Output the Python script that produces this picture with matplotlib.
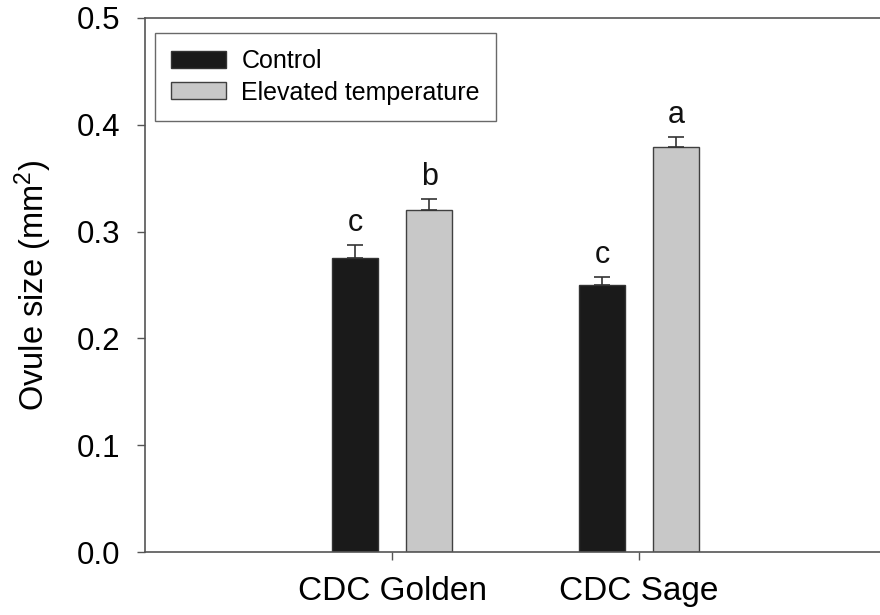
import matplotlib.pyplot as plt
import numpy as np

plt.rcParams['font.family'] = ['Liberation Sans', 'DejaVu Sans']
plt.rcParams['mathtext.default'] = 'regular'

cultivars = ['CDC Golden', 'CDC Sage']
control = [0.275, 0.250]
control_err = [0.012, 0.007]
elevated = [0.320, 0.379]
elevated_err = [0.010, 0.009]
control_letters = ['c', 'c']
elevated_letters = ['b', 'a']


def main():
  fig = plt.figure(figsize=(8.8, 6.15), dpi=100)
  ax = fig.add_axes([0.165, 0.1024, 0.835, 0.8686])

  x = np.arange(1, len(cultivars) + 1)
  width = 0.185
  offset = 0.15
  err_kw = dict(ecolor='#333333', elinewidth=1.2, capsize=6, capthick=1.2)

  ax.bar(x - offset, control, width, color='#1a1a1a', edgecolor='#333333',
         linewidth=1.0, label='Control', yerr=[np.zeros(len(control)), control_err],
         error_kw=err_kw, zorder=2)
  ax.bar(x + offset, elevated, width, color='#c8c8c8', edgecolor='#404040',
         linewidth=1.0, label='Elevated temperature',
         yerr=[np.zeros(len(elevated)), elevated_err], error_kw=err_kw, zorder=2)

  # significance letters above the error bars
  for xi, v, e, t in zip(x - offset, control, control_err, control_letters):
    ax.annotate(t, (xi, v + e), xytext=(0, 10.5), textcoords='offset points',
                ha='center', va='baseline', fontsize=22, color='#111111')
  for xi, v, e, t in zip(x + offset, elevated, elevated_err, elevated_letters):
    ax.annotate(t, (xi, v + e), xytext=(0, 10.5), textcoords='offset points',
                ha='center', va='baseline', fontsize=22, color='#111111')

  ax.set_xlim(0, 2.975)
  ax.set_ylim(0, 0.5)
  ax.set_xticks(x)
  ax.set_xticklabels(cultivars, fontsize=24)
  ax.set_yticks(np.arange(0, 0.51, 0.1))
  ax.set_yticklabels([f'{v:.1f}' for v in np.arange(0, 0.51, 0.1)], fontsize=22.5)
  ax.tick_params(axis='y', direction='out', length=6, width=1.0, color='#555555', pad=12)
  ax.tick_params(axis='x', direction='out', length=6, width=1.0, color='#555555', pad=11)
  ax.set_ylabel(r'Ovule size (mm$^2$)', fontsize=23.5, labelpad=16)

  for side in ['left', 'bottom', 'top']:
    ax.spines[side].set_color('#555555')
    ax.spines[side].set_linewidth(1.2)
  ax.spines['right'].set_visible(False)

  leg = ax.legend(loc='upper left', bbox_to_anchor=(10 / 735, 1 - 15 / 534),
                  borderaxespad=0, fontsize=18, frameon=True, fancybox=False,
                  edgecolor='#444444', handlelength=2.2, handleheight=0.65,
                  labelspacing=0.3, borderpad=0.65, handletextpad=0.6)
  leg.get_frame().set_linewidth(1.0)

  fig.savefig('out.png', dpi=100)


if __name__ == '__main__':
  main()
